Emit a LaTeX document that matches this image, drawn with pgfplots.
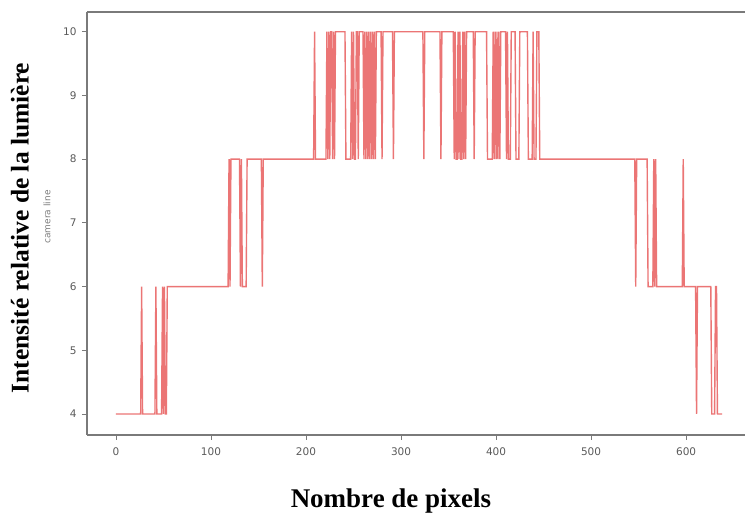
\documentclass[border=0pt]{standalone}
\usepackage{fontspec}
\setmainfont{Liberation Serif}
\newfontfamily\tickfont{DejaVu Sans}
\usepackage{pgfplots}
\pgfplotsset{compat=1.18}
\definecolor{spine}{HTML}{7A7A7A}
\definecolor{ticktext}{HTML}{5A5A5A}
\definecolor{linered}{HTML}{E23A3A}
\begin{document}
\begin{tikzpicture}
\useasboundingbox (-87pt,-83pt) rectangle (658pt,435pt);
\begin{axis}[
  scale only axis,
  width=658pt, height=423pt,
  xmin=-30.5, xmax=662,
  ymin=3.67, ymax=10.31,
  axis x line*=box, axis y line*=left,
  xtick pos=bottom, ytick pos=left,
  xtick={0,100,200,300,400,500,600},
  ytick={4,5,6,7,8,9,10},
  tick align=outside,
  major tick length=5pt,
  axis line style={draw=spine, line width=1.5pt},
  every tick/.style={draw=spine, line width=0.9pt},
  /pgf/number format/assume math mode=true,
  ticklabel style={font=\tickfont\fontsize{10.5}{12}\selectfont, text=ticktext},
  xticklabel style={yshift=-4pt},
  yticklabel style={xshift=-2pt},
  clip=true,
]
\addplot[draw=linered, opacity=0.7, line width=1.4pt] coordinates {
(0,4) (26,4) (27,6) (28,4) (41,4) (42,6) (43,4) (48,4) (49,6) (50,4) (51,6) (52,4) (53,4) (54,6)
(118,6) (119,8) (120,6) (121,8) (130,8) (131,6) (132,8) (133,6) (137,6) (138,8) (153,8) (154,6) (155,8)
(208,8) (209,10) (210,8)
(221,8) (222,10) (223,8) (224,10) (225,8) (226,10) (227,10) (228,8) (229,10) (230,8) (231,10)
(241,10) (242,8) (247,8) (248,10) (249,8) (250,10) (251,8) (252,8) (253,10) (254,10) (255,8) (256,10)
(260,10) (261,8) (262,10) (263,8) (264,10) (265,8) (266,10) (267,8) (268,10) (269,8) (270,10) (271,8) (272,10) (273,8) (274,10)
(279,10) (280,8) (281,10)
(291,10) (292,8) (293,10)
(323,10) (324,8) (325,10)
(341,10) (342,8) (343,10)
(355,10) (356,8) (357,10) (358,8) (359,8) (360,10) (361,8) (362,10) (363,8) (364,8) (365,10) (366,8) (367,10) (368,8) (369,10)
(376,10) (377,8) (378,10)
(390,10) (391,8) (396,8) (397,10) (398,8) (399,10) (400,8) (401,10) (402,8) (403,10) (404,8) (405,10)
(410,10) (411,8) (412,10) (413,8) (415,8) (416,10)
(420,10) (421,8) (424,8) (425,10)
(433,10) (434,8) (438,8) (439,10) (440,8) (442,8) (443,10) (445,10) (446,8)
(546,8) (547,6) (548,8) (559,8) (560,6) (565,6) (566,8) (567,6) (568,8) (569,6)
(596,6) (597,8) (598,6) (610,6) (611,4) (612,6)
(626,6) (627,4) (630,4) (631,6) (632,6) (633,4) (638,4)
};
\end{axis}
\node[rotate=90, font=\tickfont\fontsize{9}{11}\selectfont, text=ticktext!80] at (-40pt,218pt) {camera line};
\node[rotate=90, font=\fontsize{25.5}{30}\selectfont\bfseries] at (-67pt,207pt) {Intensité relative de la lumière};
\node[anchor=base, font=\fontsize{27}{32}\selectfont\bfseries] at (304pt,-73pt) {Nombre de pixels};
\end{tikzpicture}
\end{document}
